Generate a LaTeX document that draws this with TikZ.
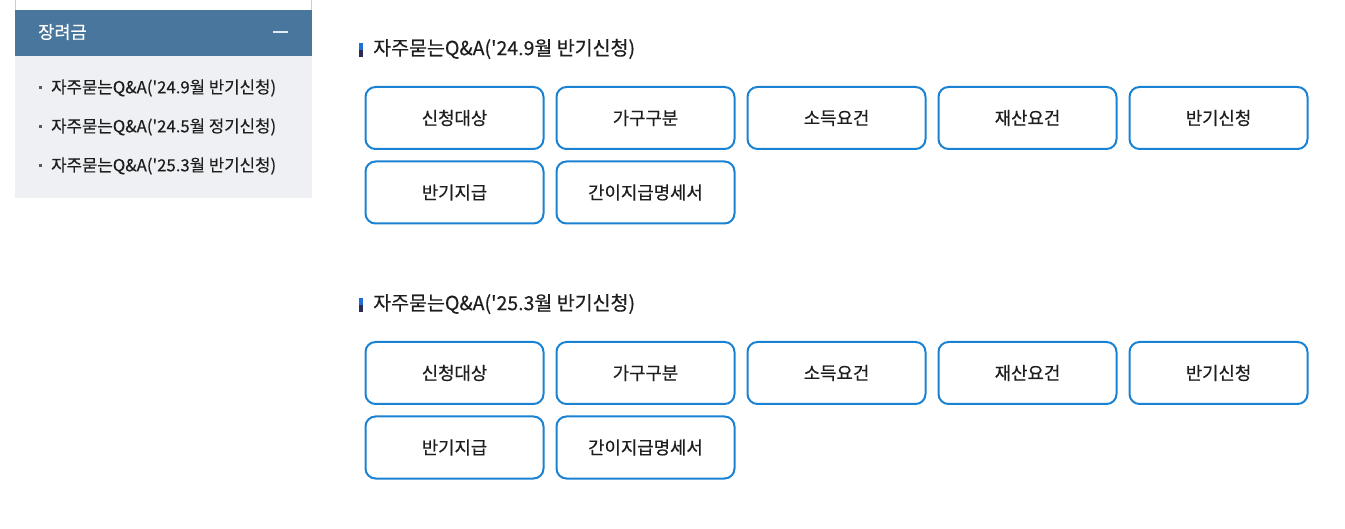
\documentclass[tikz,border=0pt]{standalone}
\usepackage{fontspec}
\setmainfont{Noto Sans CJK KR}
\newfontfamily\kr[FakeBold=0.35]{Noto Sans CJK KR}
\definecolor{hdrblue}{HTML}{48769C}
\definecolor{listbg}{HTML}{EFF0F4}
\definecolor{btnblue}{HTML}{1A82D2}
\definecolor{txt}{HTML}{1E1E1E}
\definecolor{markblue}{HTML}{1F6FD8}
\definecolor{marknavy}{HTML}{2C2C52}
\definecolor{edgegray}{HTML}{CCCCCC}
\tikzset{
  btn/.style={draw=btnblue, line width=2pt, rounded corners=10pt, minimum width=178pt, minimum height=62pt, text=txt, font=\kr\fontsize{17.8}{21}\selectfont, inner sep=0pt},
  listitem/.style={anchor=west, text=txt, font=\kr\fontsize{16.75}{19}\selectfont, inner sep=0pt},
  heading/.style={anchor=west, text=txt, font=\kr\fontsize{19.5}{23}\selectfont, inner sep=0pt},
}
\begin{document}
\begin{tikzpicture}[x=1pt,y=-1pt]
\useasboundingbox (0,0) rectangle (1345,529);
\fill[white] (0,0) rectangle (1345,529);
% sidebar
\draw[edgegray, line width=1pt] (15.5,0) -- (15.5,10) (311.5,0) -- (311.5,10);
\fill[hdrblue] (15,10) rectangle (312,56);
\fill[listbg] (15,56) rectangle (312,198);
\node[anchor=west, text=white, font=\kr\fontsize{17.6}{20}\selectfont, inner sep=0pt] (side) at (38,32) {장려금};
\draw[white!85!hdrblue, line width=2pt] (273,32) -- (288,32);
\foreach \yy/\t [count=\i] in {88/{자주묻는Q\&A('24.9월 반기신청)},127/{자주묻는Q\&A('24.5월 정기신청)},166/{자주묻는Q\&A('25.3월 반기신청)}}{
  \fill[gray!70!black] (38.5,\yy-1.5) rectangle (41.5,\yy+1.5);
  \node[listitem] (li\i) at (51,\yy) {\t};
}
% sections
\foreach \s/\y/\t in {a/0/{자주묻는Q\&A('24.9월 반기신청)}, b/255/{자주묻는Q\&A('25.3월 반기신청)}}{
  \fill[markblue] (359,43+\y) rectangle (362.5,50+\y);
  \fill[marknavy] (359,50+\y) rectangle (362.5,57+\y);
  \node[heading] (h\s) at (373,49+\y) {\t};
  \node[btn] (\s1) at (454.5,118+\y) {신청대상};
  \node[btn] (\s2) at (645.5,118+\y) {가구구분};
  \node[btn] (\s3) at (836.5,118+\y) {소득요건};
  \node[btn] (\s4) at (1027.5,118+\y) {재산요건};
  \node[btn] (\s5) at (1218.5,118+\y) {반기신청};
  \node[btn] (\s6) at (454.5,192.5+\y) {반기지급};
  \node[btn] (\s7) at (645.5,192.5+\y) {간이지급명세서};
}
\end{tikzpicture}
\end{document}
